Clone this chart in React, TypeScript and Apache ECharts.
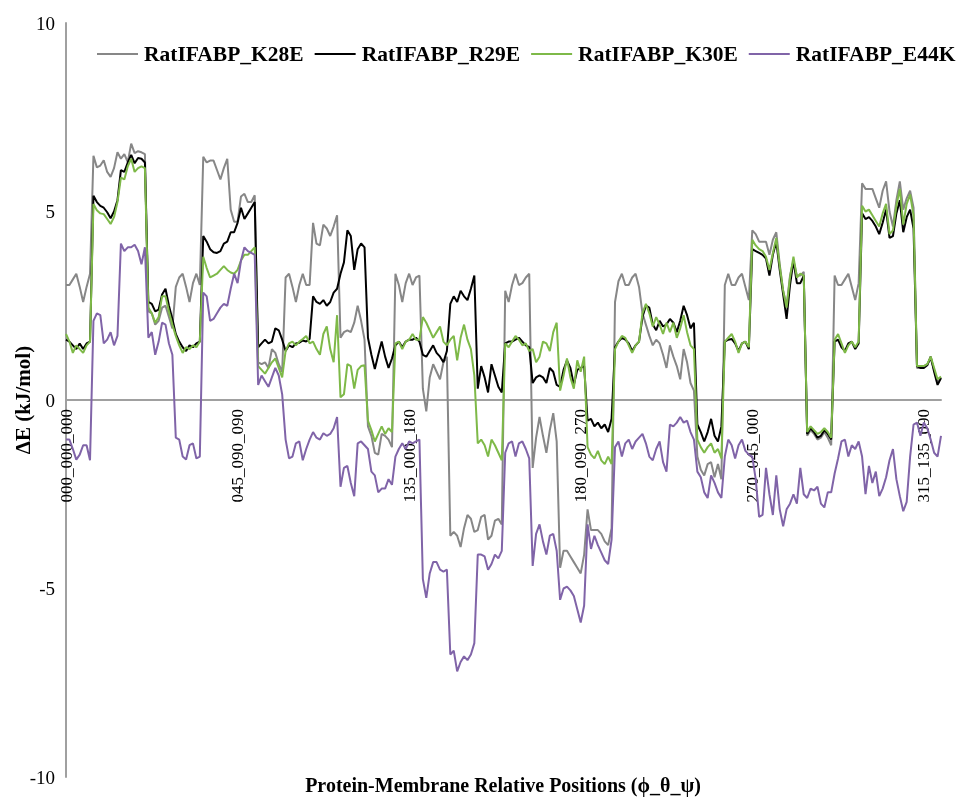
import React, { useEffect, useRef } from "react";
import * as echarts from "echarts";

// Category axis: positions phi_theta_psi (psi varies fastest)
const PHI = ["000", "045", "090", "135", "180", "225", "270", "315"];
const THETA = ["000", "045", "090", "135"];
const PSI = ["000", "045", "090", "135", "180", "225", "270", "315"];
const categories: string[] = [];
for (const p of PHI) for (const t of THETA) for (const s of PSI) categories.push(`${p}_${t}_${s}`);

const SERIES_NAMES = ["RatIFABP_K28E", "RatIFABP_R29E", "RatIFABP_K30E", "RatIFABP_E44K"];
const SERIES_COLORS = ["#878787", "#000000", "#7EB948", "#8064A8"];

const k28e = [
  3.05, 3.05, 3.2, 3.35, 3.0, 2.6, 3.0, 3.35,
  6.48, 6.17, 6.22, 6.36, 6.05, 5.92, 6.15, 6.57,
  6.4, 6.52, 6.31, 6.8, 6.55, 6.6, 6.57, 6.52,
  2.35, 2.3, 2.0, 2.1, 2.45, 2.5, 2.2, 1.9,
  3.0, 3.25, 3.35, 3.0, 2.6, 3.1, 3.35, 3.05,
  6.45, 6.3, 6.35, 6.35, 6.1, 5.85, 6.15, 6.4,
  5.05, 4.73, 4.73, 5.4, 5.47, 5.25, 5.25, 5.43,
  1.0, 0.95, 1.0, 0.85, 1.35, 1.25, 0.95, 0.75,
  3.25, 3.35, 3.0, 2.6, 3.05, 3.35, 3.05, 3.05,
  4.7, 4.15, 4.1, 4.65, 4.55, 4.35, 4.6, 4.9,
  1.65, 1.8, 1.85, 1.8, 2.05, 2.5, 2.1, 1.6,
  -0.7, -0.95, -1.4, -1.45, -0.9, -0.95, -1.05, -1.25,
  3.35, 3.05, 2.6, 3.1, 3.35, 3.05, 3.25, 3.3,
  0.3, -0.3, 0.6, 0.95, 0.75, 0.55, 1.0, 1.15,
  -3.6, -3.5, -3.6, -3.9, -3.4, -3.05, -3.15, -3.5,
  -3.45, -3.1, -3.05, -3.7, -3.6, -3.2, -3.15, -3.3,
  2.9, 2.6, 3.05, 3.35, 3.05, 3.1, 3.25, 3.35,
  -1.8, -1.0, -0.45, -0.95, -1.4, -0.8, -0.35, -1.1,
  -4.45, -4.0, -4.0, -4.15, -4.3, -4.45, -4.6, -4.1,
  -2.9, -3.45, -3.45, -3.45, -3.55, -3.75, -3.85, -3.4,
  2.6, 3.15, 3.35, 3.05, 3.05, 3.25, 3.35, 3.0,
  2.3, 2.0, 1.7, 1.45, 1.6, 1.5, 1.2, 0.85,
  1.45, 1.15, 0.9, 0.55, 1.35, 1.0, 0.45, 0.25,
  -1.5, -1.85, -2.0, -1.7, -1.65, -2.05, -1.7, -2.1,
  3.05, 3.35, 3.05, 3.05, 3.25, 3.35, 3.0, 2.65,
  4.5, 4.4, 4.2, 4.2, 4.2, 3.85, 4.25, 4.45,
  3.6, 2.9, 2.5, 3.3, 3.7, 3.3, 3.3, 3.4,
  -0.95, -0.8, -0.9, -1.05, -1.0, -0.85, -1.0, -1.2,
  3.3, 3.05, 3.05, 3.2, 3.35, 3.0, 2.65, 3.1,
  5.75, 5.6, 5.6, 5.6, 5.35, 5.1, 5.55, 5.8,
  5.0, 4.6, 5.3, 5.8, 5.05, 5.35, 5.55, 5.1,
  0.85, 0.85, 0.9, 0.95, 1.1, 0.8, 0.45, 0.6,
];

const r29e = [
  1.6, 1.55, 1.45, 1.35, 1.5, 1.35, 1.5, 1.55,
  5.42, 5.25, 5.15, 5.1, 4.98, 4.82, 5.0, 5.3,
  6.1, 6.05, 6.3, 6.5, 6.28, 6.42, 6.4, 6.3,
  2.6, 2.55, 2.35, 2.4, 2.8, 2.95, 2.5, 2.15,
  1.75, 1.55, 1.4, 1.3, 1.45, 1.4, 1.5, 1.55,
  4.35, 4.2, 4.0, 3.92, 3.9, 3.95, 4.15, 4.2,
  4.45, 4.45, 4.7, 5.1, 4.8, 4.95, 5.1, 5.25,
  1.4, 1.5, 1.6, 1.5, 1.55, 1.9, 1.85, 1.6,
  1.3, 1.45, 1.4, 1.5, 1.52, 1.58, 1.55, 1.62,
  2.75, 2.6, 2.55, 2.65, 2.5, 2.6, 2.85, 2.95,
  3.35, 3.65, 4.5, 4.35, 3.45, 4.0, 4.15, 4.05,
  1.65, 1.2, 0.82, 1.2, 1.55, 1.15, 0.85, 1.1,
  1.45, 1.55, 1.4, 1.55, 1.6, 1.6, 1.65, 1.55,
  1.2, 1.15, 1.3, 1.45, 1.25, 1.15, 1.0, 1.3,
  2.55, 2.75, 2.6, 2.9, 2.75, 2.65, 2.95, 3.3,
  0.3, 0.9, 0.6, 0.2, 0.95, 0.65, 0.35, 0.2,
  1.5, 1.55, 1.55, 1.6, 1.65, 1.55, 1.45, 1.4,
  0.45, 0.6, 0.65, 0.6, 0.45, 0.85, 0.75, 0.4,
  0.35, 0.8, 1.05, 0.85, 0.4, 0.8, 0.85, 0.9,
  -0.55, -0.5, -0.7, -0.6, -0.75, -0.65, -0.85, -0.5,
  1.4, 1.55, 1.65, 1.6, 1.5, 1.3, 1.45, 1.55,
  2.2, 2.5, 2.45, 2.0, 1.85, 2.1, 1.95, 2.0,
  2.15, 2.05, 1.8, 2.1, 2.5, 2.25, 1.9, 2.05,
  -0.65, -0.85, -1.1, -0.85, -0.5, -0.95, -1.1, -0.7,
  1.55, 1.6, 1.62, 1.5, 1.3, 1.5, 1.55, 1.35,
  4.0, 3.95, 3.9, 3.85, 3.75, 3.3, 3.85, 4.2,
  3.45, 2.8, 2.15, 3.05, 3.7, 3.1, 3.1, 3.3,
  -0.9, -0.75, -0.85, -1.0, -0.95, -0.8, -0.9, -1.05,
  1.55, 1.6, 1.4, 1.3, 1.5, 1.55, 1.35, 1.5,
  4.95, 4.8, 4.85, 4.75, 4.6, 4.4, 4.7, 5.05,
  4.3, 4.35, 4.95, 5.3, 4.45, 4.85, 5.05, 4.55,
  0.9, 0.85, 0.85, 0.92, 1.15, 0.75, 0.4, 0.58,
];

const k30e = [
  1.75, 1.55, 1.25, 1.45, 1.35, 1.25, 1.45, 1.55,
  5.2, 5.03, 4.95, 4.93, 4.8, 4.67, 4.85, 5.25,
  5.9, 5.85, 6.2, 6.4, 6.05, 6.15, 6.2, 6.15,
  2.45, 2.3, 2.05, 2.2, 2.75, 2.75, 2.35, 2.0,
  1.7, 1.45, 1.25, 1.4, 1.35, 1.45, 1.4, 1.55,
  3.8, 3.5, 3.25, 3.3, 3.35, 3.45, 3.55, 3.45,
  3.38, 3.35, 3.45, 3.7, 3.85, 3.85, 3.95, 4.05,
  0.9, 0.8, 0.7, 0.85, 1.0, 1.1, 0.85, 0.6,
  1.3, 1.5, 1.55, 1.45, 1.55, 1.62, 1.7, 1.5,
  1.55, 1.35, 1.2, 1.75, 1.95, 1.35, 1.0, 2.25,
  0.07, 0.15, 0.95, 0.9, 0.3, 0.8, 0.9, 0.92,
  -0.55, -0.8, -1.1, -0.9, -0.7, -0.9, -0.75, -0.85,
  1.5, 1.55, 1.35, 1.55, 1.6, 1.75, 1.6, 1.6,
  2.2, 2.05, 1.85, 1.65, 1.8, 1.95, 1.55, 1.45,
  1.6, 1.7, 1.05, 1.65, 2.0, 1.6, 1.35, 0.65,
  -1.15, -1.05, -1.2, -1.5, -1.05, -1.2, -1.4, -1.6,
  1.5, 1.4, 1.55, 1.7, 1.6, 1.45, 1.5, 1.3,
  1.35, 1.0, 1.15, 1.55, 1.5, 1.3, 1.8, 2.05,
  0.25, 0.65, 1.1, 0.6, 0.3, 1.05, 0.75, 1.15,
  -1.25, -1.45, -1.55, -1.35, -1.6, -1.7, -1.5, -1.7,
  1.35, 1.55, 1.7, 1.65, 1.45, 1.25, 1.45, 1.55,
  2.3, 2.55, 2.3, 1.95, 2.2, 2.0, 1.75, 2.05,
  1.8, 2.05, 1.65, 1.9, 2.25, 1.8, 1.45, 1.35,
  -1.05, -1.25, -1.4, -1.25, -1.15, -1.4, -1.3, -1.55,
  1.55, 1.65, 1.75, 1.55, 1.25, 1.5, 1.55, 1.4,
  4.25, 4.1, 4.0, 3.95, 3.8, 3.45, 3.9, 4.3,
  3.55, 2.9, 2.45, 3.25, 3.8, 3.25, 3.35, 3.3,
  -0.85, -0.7, -0.8, -0.9, -0.85, -0.75, -0.85, -1.0,
  1.6, 1.75, 1.5, 1.25, 1.45, 1.55, 1.4, 1.55,
  5.15, 5.0, 5.05, 4.9, 4.75, 4.6, 4.95, 5.2,
  4.4, 4.5, 5.15, 5.6, 4.65, 5.2, 5.45, 4.9,
  0.9, 0.9, 0.9, 0.95, 1.15, 0.85, 0.55, 0.62,
];

const e44k = [
  -1.05, -1.05, -1.3, -1.58, -1.45, -1.2, -1.2, -1.6,
  2.1, 2.3, 2.25, 1.5, 1.6, 1.8, 1.45, 1.7,
  4.15, 3.95, 4.05, 4.05, 4.12, 3.95, 3.6, 4.05,
  1.65, 1.8, 1.2, 1.55, 2.05, 2.0, 1.5, 1.2,
  -1.0, -1.05, -1.5, -1.58, -1.2, -1.15, -1.55, -1.5,
  2.85, 2.75, 2.1, 2.15, 2.3, 2.45, 2.55, 2.5,
  2.95, 3.35, 3.1, 3.7, 4.05, 3.95, 3.9, 3.85,
  0.4, 0.65, 0.5, 0.35, 0.6, 0.85, 0.65, 0.15,
  -1.05, -1.55, -1.5, -1.15, -1.1, -1.6, -1.3, -1.05,
  -0.85, -1.0, -1.05, -0.88, -0.95, -0.9, -0.75, -0.45,
  -2.3, -1.8, -1.75, -2.2, -2.55, -1.15, -1.1, -1.2,
  -1.3, -1.9, -2.0, -2.45, -2.35, -2.35, -2.1, -2.25,
  -1.5, -1.3, -1.15, -1.3, -1.1, -1.15, -1.1, -1.05,
  -4.75, -5.25, -4.6, -4.3, -4.3, -4.5, -4.55, -4.5,
  -6.75, -6.65, -7.2, -6.95, -6.8, -6.9, -6.75, -6.45,
  -4.1, -4.1, -4.15, -4.5, -4.35, -4.1, -4.2, -4.0,
  -1.4, -1.15, -1.1, -1.5, -1.15, -1.1, -1.3, -1.55,
  -4.4, -3.55, -3.3, -3.75, -4.1, -3.6, -3.55, -4.0,
  -5.3, -5.0, -4.95, -5.05, -5.2, -5.55, -5.9, -5.45,
  -3.3, -3.95, -3.6, -3.85, -4.05, -4.25, -4.35, -3.7,
  -1.25, -1.1, -1.5, -1.15, -1.05, -1.3, -1.1, -1.0,
  -0.9, -1.15, -1.5, -1.6, -1.3, -1.1, -1.65, -1.9,
  -0.65, -0.7, -0.6, -0.45, -0.6, -0.55, -0.85, -1.05,
  -1.9, -2.05, -2.45, -2.6, -2.0, -2.2, -2.45, -2.6,
  -1.5, -1.05, -1.2, -1.55, -1.2, -1.05, -1.35, -1.45,
  -1.5, -2.1, -3.1, -3.05, -1.8, -2.5, -3.05, -2.0,
  -2.9, -3.35, -2.9, -2.75, -2.5, -2.75, -1.8, -2.5,
  -2.6, -2.35, -2.4, -2.3, -2.75, -2.85, -2.45, -2.45,
  -1.95, -1.55, -1.1, -1.05, -1.5, -1.2, -1.3, -1.1,
  -1.5, -2.5, -1.75, -2.2, -1.9, -2.55, -2.35, -2.05,
  -1.6, -1.3, -2.1, -2.55, -2.95, -2.7, -1.5, -0.65,
  -0.6, -0.95, -0.6, -0.75, -1.05, -1.4, -1.5, -0.95,
];

const SERIES_DATA = [k28e, r29e, k30e, e44k];

const Y_MIN = -10;
const Y_MAX = 10;
const Y_INTERVAL = 5;

const X_TITLE = "Protein-Membrane Relative Positions (\u03D5_\u03B8_\u03C8)";
const Y_TITLE = "\u0394E (kJ/mol)";

const FONT = "'Liberation Serif', 'Times New Roman', serif";

const GRID_TOP = 23;
const GRID_BOTTOM = 20;
const CHART_H = 797;

export default function App() {
  const ref = useRef<HTMLDivElement>(null);

  useEffect(() => {
    if (!ref.current) return;
    const chart = echarts.init(ref.current, null, { renderer: "svg" });
    const axisLineStyle = { color: "#A0A0A0", width: 2 };
    // x axis drawn at the zero line: shift from the grid bottom by the zero position
    const plotH = CHART_H - GRID_TOP - GRID_BOTTOM;
    const zeroShift = -(plotH * (0 - Y_MIN)) / (Y_MAX - Y_MIN);
    chart.setOption({
      animation: false,
      textStyle: { fontFamily: FONT },
      grid: {
        left: 66,
        right: 15,
        top: GRID_TOP,
        bottom: GRID_BOTTOM,
        containLabel: false,
        outerBoundsMode: "none",
      },
      title: {
        text: X_TITLE,
        left: 503,
        top: 775,
        textAlign: "center",
        padding: 0,
        textStyle: { fontFamily: FONT, fontSize: 20, fontWeight: "bold", color: "#000" },
      },
      legend: {
        left: 92,
        top: 38,
        width: 900,
        icon: "rect",
        itemWidth: 41,
        itemHeight: 2,
        itemGap: 11,
        textStyle: { fontFamily: FONT, fontSize: 21.5, fontWeight: "bold", color: "#000", padding: [0, 0, 0, 1] },
        data: SERIES_NAMES,
      },
      xAxis: {
        type: "category",
        data: categories,
        boundaryGap: false,
        offset: zeroShift,
        axisLine: { onZero: false, lineStyle: axisLineStyle },
        axisTick: { show: false },
        splitLine: { show: false },
        axisLabel: {
          interval: 49,
          rotate: 90,
          fontSize: 17,
          color: "#000",
          margin: 9,
          fontFamily: FONT,
          hideOverlap: false,
        },
      },
      yAxis: {
        type: "value",
        min: Y_MIN,
        max: Y_MAX,
        interval: Y_INTERVAL,
        axisLine: { show: true, lineStyle: axisLineStyle },
        axisTick: { show: false },
        splitLine: { show: false },
        axisLabel: { fontSize: 19, color: "#000", margin: 11, fontFamily: FONT },
        name: Y_TITLE,
        nameLocation: "middle",
        nameGap: 33,
        nameMoveOverlap: false,
        nameTextStyle: { fontFamily: FONT, fontSize: 21, fontWeight: "bold", color: "#000" },
      },
      series: SERIES_NAMES.map((name, k) => ({
        name,
        type: "line",
        data: SERIES_DATA[k],
        showSymbol: false,
        symbol: "none",
        color: SERIES_COLORS[k],
        lineStyle: { color: SERIES_COLORS[k], width: 2 },
        emphasis: { disabled: true },
      })),
    });
    return () => chart.dispose();
  }, []);

  return (
    <div
      ref={ref}
      style={{ position: "fixed", left: 0, top: 0, width: 956, height: 797 }}
    />
  );
}
